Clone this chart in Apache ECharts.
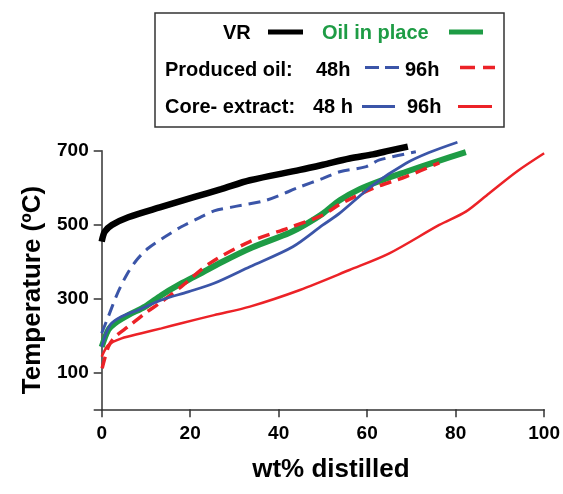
<!DOCTYPE html>
<html>
<head>
<meta charset="utf-8">
<script src="https://cdn.jsdelivr.net/npm/echarts@6/dist/echarts.min.js"></script>
<style>
html,body{margin:0;padding:0;background:#fff;}
#chart{width:563px;height:494px;}
</style>
</head>
<body>
<div id="chart"></div>
<script>
// ---- data (x = wt% distilled, y = temperature °C) ----
var xTicks = [0, 20, 40, 60, 80, 100];
var yTickLabels = [100, 300, 500, 700];

var vr = [[0,454],[0.7,481],[2.3,499],[6,520],[13.5,548],[21,575],[27,596],[33.5,620],[44.8,648],[50,662],[56,679],[61.3,690],[65,700],[69.2,711]];
var oilInPlace = [[0,169],[1.5,215],[3,233],[6,255],[9.8,278],[13.5,309],[17.3,336],[21,359],[27.4,400],[34,438],[42.5,478],[46,500],[50,530],[53.8,566],[58.3,596],[63.5,621],[68.8,643],[76,672],[82.3,696]];
var producedOil48 = [[0,206],[1.5,251],[3.4,309],[5.6,363],[7.9,404],[10.5,436],[14.3,467],[18,494],[21.8,517],[25.4,537],[29.7,548],[37.2,566],[44.8,602],[50,625],[53.8,643],[59.8,657],[62.8,675],[71,697]];
var producedOil96 = [[0.1,111],[1.5,169],[3,196],[6,224],[9.8,260],[13.5,291],[18,332],[24.4,395],[33.5,454],[42.5,492],[50,526],[53.8,555],[61.3,598],[68.8,630],[76.3,667]];
var coreExtract48 = [[0,169],[1.9,228],[4.5,251],[8.3,269],[13.5,296],[19.5,318],[25.4,341],[33.5,386],[43.2,440],[50,499],[53.8,531],[61.3,607],[68.8,666],[74,695],[80.4,723]];
var coreExtract96 = [[0,142],[1.5,174],[4.5,192],[9,206],[13.5,219],[18,233],[25.4,255],[33.5,278],[44.8,323],[56,377],[65,422],[76.3,499],[82.3,535],[87.6,585],[94,645],[100,693]];

var BLACK = '#000000', GREEN = '#1e9c45', BLUE = '#3b55a8', RED = '#ec2227';
var FONT = "'Liberation Sans', Arial, sans-serif";

function line(name, data, color, width, dashed) {
  return {
    name: name, type: 'line', data: data, smooth: 0.3, showSymbol: false, silent: true, clip: false,
    lineStyle: {color: color, width: width, type: dashed ? [12, 7] : 'solid', cap: 'butt'}
  };
}

var chart = echarts.init(document.getElementById('chart'), null, {renderer: 'canvas'});
var legendText = {fontFamily: FONT, fontWeight: 'bold', fontSize: 20, fill: '#000', verticalAlign: 'middle'};
function t(x, y, s, color) {
  return {type: 'text', x: x, y: y, style: Object.assign({}, legendText, {text: s, fill: color || '#000'})};
}
function seg(x1, x2, y, color, w, dash) {
  return {type: 'line', shape: {x1: x1, y1: y, x2: x2, y2: y},
    style: {stroke: color, lineWidth: w, lineDash: dash || null}};
}

chart.setOption({
  animation: false,
  grid: {left: 101.7, right: 18, top: 150.7, bottom: 84.7, containLabel: false},
  xAxis: {
    type: 'value', min: 0, max: 100, interval: 20,
    name: 'wt% distilled', nameLocation: 'middle', nameGap: 48,
    nameTextStyle: {fontFamily: FONT, fontWeight: 'bold', fontSize: 26, color: '#000', padding: [0, 0, 0, 16]},
    axisLine: {show: true, lineStyle: {color: '#333', width: 1.5}},
    axisTick: {show: true, length: 8, lineStyle: {color: '#333', width: 1.5}},
    axisLabel: {fontFamily: FONT, fontWeight: 'bold', fontSize: 19, color: '#000', margin: 15,
      customValues: xTicks},
    splitLine: {show: false}
  },
  yAxis: {
    type: 'value', min: 0, max: 700,
    name: 'Temperature (ºC)', nameLocation: 'middle', nameRotate: 90, nameGap: 56,
    nameTextStyle: {fontFamily: FONT, fontWeight: 'bold', fontSize: 26, color: '#000', padding: [0, 20, 0, 0]},
    axisLine: {show: true, lineStyle: {color: '#333', width: 1.5}},
    axisTick: {show: true, length: 8, lineStyle: {color: '#333', width: 1.5}, customValues: [0].concat(yTickLabels)},
    axisLabel: {fontFamily: FONT, fontWeight: 'bold', fontSize: 19, color: '#000', margin: 13,
      customValues: yTickLabels},
    splitLine: {show: false}
  },
  series: [
    line('VR', vr, BLACK, 6.5, false),
    line('Oil in place', oilInPlace, GREEN, 6, false),
    line('Produced oil 48h', producedOil48, BLUE, 3, true),
    line('Produced oil 96h', producedOil96, RED, 3.5, true),
    line('Core-extract 48h', coreExtract48, BLUE, 2.8, false),
    line('Core-extract 96h', coreExtract96, RED, 2.5, false)
  ],
  graphic: [
    {type: 'rect', shape: {x: 155, y: 13, width: 349, height: 114},
      style: {fill: '#fff', stroke: '#333', lineWidth: 1.5}},
    t(223, 33, 'VR'),
    seg(268, 303, 32, BLACK, 5),
    t(322, 33, 'Oil in place', GREEN),
    seg(449, 483, 32, GREEN, 5),
    t(165, 70, 'Produced oil:'),
    t(316, 70, '48h'),
    seg(365, 399, 67.5, BLUE, 3, [14, 6]),
    t(405, 70, '96h'),
    seg(460, 495, 67.5, RED, 3.5, [15, 8]),
    t(165, 107, 'Core- extract:'),
    t(313, 107, '48 h'),
    seg(362, 395, 106.5, BLUE, 3),
    t(407, 107, '96h'),
    seg(458, 492, 106.5, RED, 3)
  ]
});
</script>
</body>
</html>
